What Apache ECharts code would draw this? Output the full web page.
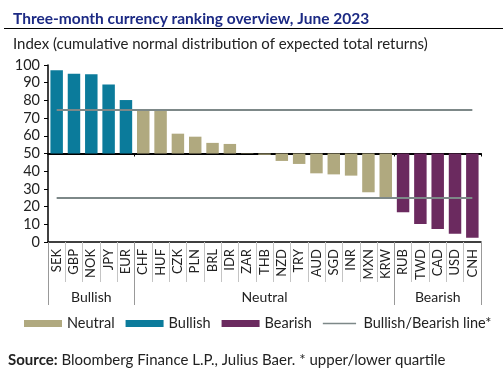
<!DOCTYPE html>
<html>
<head>
<meta charset="utf-8">
<script src="https://cdn.jsdelivr.net/npm/echarts@6/dist/echarts.min.js"></script>
<style>
  html, body { margin: 0; padding: 0; background: #fff; }
  #chart { width: 503px; height: 376px; }
</style>
</head>
<body>
<div id="chart"></div>
<script>
  // currencies, ranked
  const categories = ['SEK', 'GBP', 'NOK', 'JPY', 'EUR', 'CHF', 'HUF', 'CZK', 'PLN', 'BRL', 'IDR', 'ZAR', 'THB',
    'NZD', 'TRY', 'AUD', 'SGD', 'INR', 'MXN', 'KRW', 'RUB', 'TWD', 'CAD', 'USD', 'CNH'];
  const values = [97, 95, 94.8, 89, 80.2, 74.7, 74.7, 61.2, 59.5, 56, 55.4, 50.2, 49.3,
    45.8, 44.1, 38.8, 38.2, 37.5, 28.1, 24.7, 16.8, 10.2, 7.3, 4.7, 2.4];
  const groups = ['Bullish', 'Bullish', 'Bullish', 'Bullish', 'Bullish',
    'Neutral', 'Neutral', 'Neutral', 'Neutral', 'Neutral', 'Neutral', 'Neutral', 'Neutral',
    'Neutral', 'Neutral', 'Neutral', 'Neutral', 'Neutral', 'Neutral', 'Neutral',
    'Bearish', 'Bearish', 'Bearish', 'Bearish', 'Bearish'];
  const yTicks = [0, 10, 20, 30, 40, 50, 60, 70, 80, 90, 100];
  const baseline = 50;
  const quartiles = [75, 25];

  const font = 'Lato';
  const colors = { Neutral: '#b0a97f', Bullish: '#0b7b9b', Bearish: '#6b2a5f' };
  const lineGrey = '#7d8888';

  // group boundaries (category index where a group starts, plus the end)
  const bounds = [0];
  groups.forEach((g, i) => { if (i > 0 && g !== groups[i - 1]) bounds.push(i); });
  bounds.push(categories.length);
  // where to put group label (middle category)
  const groupLabelIdx = [];
  for (let k = 0; k < bounds.length - 1; k++) {
    groupLabelIdx.push(Math.floor((bounds[k] + bounds[k + 1] - 1) / 2));
  }

  const chart = echarts.init(document.getElementById('chart'));

  const base = values.map(v => Math.min(v, baseline));
  const groupSeries = ['Neutral', 'Bullish', 'Bearish'].map(g => ({
    name: g,
    type: 'bar',
    stack: 'rank',
    barCategoryGap: '28%',
    itemStyle: { color: colors[g] },
    data: values.map((v, i) => groups[i] === g ? Math.abs(v - baseline) : '-')
  }));

  const option = {
    animation: false,
    textStyle: { fontFamily: font },
    title: {
      text: 'Three-month currency ranking overview, June 2023',
      left: 8,
      top: 6,
      textStyle: { fontFamily: font, fontSize: 15.5, fontWeight: 'bold', color: '#1c2a84' },
      subtext: 'Index (cumulative normal distribution of expected total returns)',
      itemGap: 10,
      subtextStyle: { fontFamily: font, fontSize: 15, color: '#222' }
    },
    graphic: [
      { type: 'line', shape: { x1: 4, y1: 28.5, x2: 503, y2: 28.5 }, style: { stroke: '#000', lineWidth: 1 } },
      {
        type: 'text', left: 8, top: 353,
        style: {
          text: '{b|Source:} Bloomberg Finance L.P., Julius Baer. * upper/lower quartile',
          font: '15px ' + font, fill: '#222',
          rich: { b: { fontWeight: 'bold', fontSize: 15, fontFamily: font, fill: '#222' } }
        }
      }
    ],
    legend: {
      left: 19,
      top: 311,
      itemWidth: 38,
      itemHeight: 7,
      itemGap: 11,
      textStyle: { fontSize: 14.5, color: '#222', fontFamily: font },
      data: [
        { name: 'Neutral', icon: 'rect' },
        { name: 'Bullish', icon: 'rect' },
        { name: 'Bearish', icon: 'rect' },
        { name: 'Bullish/Bearish line*', icon: 'path://M0,0M0,8M0,3.2L38,3.2L38,4.8L0,4.8Z' }
      ]
    },
    grid: { left: 48, right: 22, top: 65, bottom: 134 },
    xAxis: [
      {
        type: 'category',
        data: categories,
        axisLine: { lineStyle: { color: '#000', width: 1.5 } },
        axisTick: { show: true, interval: 0, length: 40, lineStyle: { color: '#c4c4c4', width: 1 } },
        axisLabel: { interval: 0, rotate: 90, fontSize: 13, color: '#222', margin: 7 }
      },
      {
        type: 'category',
        data: categories,
        position: 'bottom',
        axisLine: { show: false },
        axisTick: { show: true, interval: i => bounds.includes(i), length: 63, lineStyle: { color: '#999' } },
        axisLabel: {
          interval: i => groupLabelIdx.includes(i),
          formatter: (v, i) => groups[i],
          fontSize: 14, color: '#222', margin: 48
        }
      },
      {
        type: 'category',
        data: categories,
        position: 'bottom',
        offset: -88.5,
        axisLine: { lineStyle: { color: '#000', width: 2 } },
        axisTick: { show: true, interval: i => bounds.includes(i) && i > 0, length: 3, lineStyle: { color: '#000' } },
        axisLabel: { show: false }
      }
    ],
    yAxis: {
      type: 'value',
      min: yTicks[0],
      max: yTicks[yTicks.length - 1],
      interval: 10,
      splitLine: { show: false },
      axisLine: { show: true, lineStyle: { color: '#000', width: 1.5 } },
      axisTick: { show: true, length: 4, lineStyle: { color: '#000' } },
      axisLabel: { fontSize: 14.5, color: '#222', margin: 8 }
    },
    series: [
      {
        name: 'base',
        type: 'bar',
        stack: 'rank',
        barCategoryGap: '28%',
        itemStyle: { color: 'transparent' },
        silent: true,
        data: base
      },
      ...groupSeries,
      {
        name: 'Bullish/Bearish line*',
        type: 'line',
        symbol: 'none',
        lineStyle: { color: lineGrey, width: 2 },
        itemStyle: { color: lineGrey },
        data: [],
        markLine: {
          silent: true,
          symbol: 'none',
          label: { show: false },
          lineStyle: { color: lineGrey, width: 2, type: 'solid' },
          data: quartiles.map(q => [
            { coord: [categories[0], q] },
            { coord: [categories[categories.length - 1], q] }
          ])
        }
      }
    ]
  };
  chart.setOption(option);
</script>
</body>
</html>
